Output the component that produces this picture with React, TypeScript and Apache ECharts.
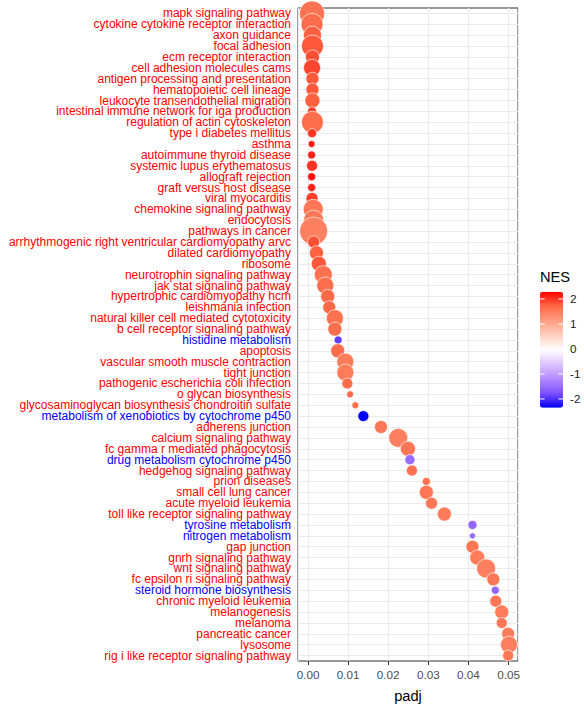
import { useEffect, useRef } from "react";
import * as echarts from "echarts";

const pathways = [
  "mapk signaling pathway",
  "cytokine cytokine receptor interaction",
  "axon guidance",
  "focal adhesion",
  "ecm receptor interaction",
  "cell adhesion molecules cams",
  "antigen processing and presentation",
  "hematopoietic cell lineage",
  "leukocyte transendothelial migration",
  "intestinal immune network for iga production",
  "regulation of actin cytoskeleton",
  "type i diabetes mellitus",
  "asthma",
  "autoimmune thyroid disease",
  "systemic lupus erythematosus",
  "allograft rejection",
  "graft versus host disease",
  "viral myocarditis",
  "chemokine signaling pathway",
  "endocytosis",
  "pathways in cancer",
  "arrhythmogenic right ventricular cardiomyopathy arvc",
  "dilated cardiomyopathy",
  "ribosome",
  "neurotrophin signaling pathway",
  "jak stat signaling pathway",
  "hypertrophic cardiomyopathy hcm",
  "leishmania infection",
  "natural killer cell mediated cytotoxicity",
  "b cell receptor signaling pathway",
  "histidine metabolism",
  "apoptosis",
  "vascular smooth muscle contraction",
  "tight junction",
  "pathogenic escherichia coli infection",
  "o glycan biosynthesis",
  "glycosaminoglycan biosynthesis chondroitin sulfate",
  "metabolism of xenobiotics by cytochrome p450",
  "adherens junction",
  "calcium signaling pathway",
  "fc gamma r mediated phagocytosis",
  "drug metabolism cytochrome p450",
  "hedgehog signaling pathway",
  "prion diseases",
  "small cell lung cancer",
  "acute myeloid leukemia",
  "toll like receptor signaling pathway",
  "tyrosine metabolism",
  "nitrogen metabolism",
  "gap junction",
  "gnrh signaling pathway",
  "wnt signaling pathway",
  "fc epsilon ri signaling pathway",
  "steroid hormone biosynthesis",
  "chronic myeloid leukemia",
  "melanogenesis",
  "melanoma",
  "pancreatic cancer",
  "lysosome",
  "rig i like receptor signaling pathway",
];

const padj = [
  0.0010, 0.0010, 0.0011, 0.0011, 0.0011, 0.0010, 0.0011, 0.0011, 0.0011, 0.0010,
  0.0011, 0.0010, 0.0009, 0.0009, 0.0010, 0.0009, 0.0009, 0.0010, 0.0013, 0.0014,
  0.0014, 0.0014, 0.0021, 0.0027, 0.0038, 0.0043, 0.0049, 0.0053, 0.0067, 0.0067,
  0.0075, 0.0074, 0.0093, 0.0093, 0.0098, 0.0105, 0.0118, 0.0138, 0.0182, 0.0225,
  0.0249, 0.0254, 0.0259, 0.0295, 0.0295, 0.0308, 0.0340, 0.0410, 0.0410, 0.0410,
  0.0422, 0.0444, 0.0462, 0.0467, 0.0468, 0.0483, 0.0483, 0.0499, 0.0501, 0.0499,
];

const nes = [
  1.6, 1.65, 1.75, 1.8, 1.85, 1.9, 1.8, 1.8, 1.75, 1.95,
  1.65, 2.0, 2.15, 2.1, 2.0, 2.2, 2.1, 1.95, 1.55, 1.55,
  1.45, 1.85, 1.75, 1.8, 1.6, 1.65, 1.7, 1.7, 1.6, 1.65,
  -1.9, 1.65, 1.5, 1.5, 1.65, 1.7, 1.65, -2.35, 1.55, 1.45,
  1.55, -1.5, 1.6, 1.6, 1.55, 1.55, 1.5, -1.55, -1.55, 1.55,
  1.5, 1.45, 1.55, -1.55, 1.55, 1.5, 1.55, 1.5, 1.45, 1.55,
];

const setSize = [
  260, 200, 135, 200, 82, 120, 70, 70, 94, 34,
  200, 34, 20, 27, 50, 27, 27, 60, 166, 166,
  326, 60, 82, 94, 135, 120, 82, 70, 120, 82,
  27, 82, 120, 120, 50, 20, 20, 50, 70, 150,
  94, 42, 50, 27, 82, 60, 82, 34, 15, 70,
  94, 150, 70, 27, 60, 82, 50, 70, 120, 50,
];

const nesLegendTicks = [2, 1, 0, -1, -2];
const minorXBreaks = [0.005, 0.015, 0.025, 0.035, 0.045];

const NES_MIN = -2.35;
const NES_MAX = 2.29;
const X_MIN = -0.0025;
const X_MAX = 0.05235;
const FONT = "'Liberation Sans', Arial, Helvetica, sans-serif";
const COLOR_STOPS = [
  "#0000ff", "#7e51ff", "#b38bff", "#dcc4ff", "#ffffff",
  "#ffcfbf", "#ff9e81", "#ff6846", "#ff0000",
];

export default function App() {
  const ref = useRef<HTMLDivElement>(null);

  useEffect(() => {
    if (!ref.current) return;
    const chart = echarts.init(ref.current, null, { renderer: "svg" });

    const data = pathways.map((p, i) => [padj[i], p, setSize[i], nes[i]]);

    const barLeft = 540;
    const barTop = 291.7;
    const barW = 23;
    const barH = 116;
    const yOf = (v: number) => barTop + ((NES_MAX - v) / (NES_MAX - NES_MIN)) * barH;

    const graphics: any[] = [
      {
        type: "text",
        x: barLeft,
        y: 277,
        style: {
          text: "NES",
          fill: "#000000",
          fontSize: 14.67,
          fontFamily: FONT,
          verticalAlign: "middle",
          align: "left",
        },
      },
    ];
    nesLegendTicks.forEach((t) => {
      const y = yOf(t);
      graphics.push({
        type: "text",
        x: 570,
        y,
        style: {
          text: String(t),
          fill: "#1a1a1a",
          fontSize: 11.7,
          fontFamily: FONT,
          verticalAlign: "middle",
          align: "left",
        },
        z: 100,
      });
      graphics.push({
        type: "line",
        shape: { x1: barLeft, y1: y, x2: barLeft + barW / 5, y2: y },
        style: { stroke: "#ffffff", lineWidth: 1 },
        z: 100,
      });
      graphics.push({
        type: "line",
        shape: { x1: barLeft + barW - barW / 5, y1: y, x2: barLeft + barW, y2: y },
        style: { stroke: "#ffffff", lineWidth: 1 },
        z: 100,
      });
    });

    const option: any = {
      animation: false,
      backgroundColor: "#ffffff",
      textStyle: { fontFamily: FONT },
      grid: {
        left: 298,
        right: 66,
        top: 8,
        bottom: 41,
        show: true,
        borderColor: "#333333",
        borderWidth: 1,
        backgroundColor: "transparent",
      },
      xAxis: {
        type: "value",
        min: X_MIN,
        max: X_MAX,
        splitNumber: 5,
        name: "padj",
        nameLocation: "middle",
        nameGap: 27,
        nameTextStyle: { color: "#000000", fontSize: 14.67, fontFamily: FONT },
        axisLine: { show: false },
        axisTick: { show: true, length: 4, lineStyle: { color: "#333333", width: 1 } },
        axisLabel: {
          color: "#4d4d4d",
          fontSize: 11.7,
          fontFamily: FONT,
          margin: 7,
          showMinLabel: false,
          showMaxLabel: false,
          formatter: (v: number) => v.toFixed(2),
        },
        splitLine: { show: true, lineStyle: { color: "#ebebeb", width: 1.1 } },
      },
      yAxis: {
        type: "category",
        data: pathways,
        inverse: true,
        boundaryGap: true,
        axisLine: { show: false },
        axisTick: {
          show: true,
          alignWithLabel: true,
          interval: 0,
          length: 4,
          lineStyle: { color: "#333333", width: 1 },
        },
        axisLabel: {
          interval: 0,
          fontSize: 12,
          fontFamily: FONT,
          margin: 7,
          color: (v: string) => (nes[pathways.indexOf(v)] >= 0 ? "#ff0000" : "#0000ff"),
        },
        splitLine: { show: false },
      },
      visualMap: {
        type: "continuous",
        show: true,
        min: NES_MIN,
        max: NES_MAX,
        dimension: 3,
        seriesIndex: 1,
        calculable: false,
        hoverLink: false,
        left: barLeft,
        top: barTop,
        padding: 0,
        itemWidth: barW,
        itemHeight: barH,
        text: null,
        inRange: { color: COLOR_STOPS },
      },
      graphic: graphics,
      series: [
        {
          type: "scatter",
          data: [],
          z: 1,
          silent: true,
          markLine: {
            silent: true,
            animation: false,
            z: 1,
            symbol: ["none", "none"],
            label: { show: false },
            lineStyle: { color: "#ebebeb", type: "solid", width: 1.1 },
            emphasis: { disabled: true },
            data: [
              ...pathways.map((p) => ({ yAxis: p })),
              ...minorXBreaks.map((x) => ({ xAxis: x, lineStyle: { width: 0.55, color: "#ebebeb", type: "solid" } })),
            ],
          },
        },
        {
          type: "scatter",
          data,
          z: 3,
          symbolSize: (val: any[]) => 1.55 * Math.sqrt(val[2]),
          itemStyle: { borderColor: "rgba(255,255,255,0.8)", borderWidth: 0.8, opacity: 1 },
          emphasis: { disabled: true },
        },
      ],
    };

    chart.setOption(option);
    return () => chart.dispose();
  }, []);

  return (
    <div
      ref={ref}
      style={{ position: "fixed", left: 0, top: 0, width: 584, height: 708 }}
    />
  );
}
